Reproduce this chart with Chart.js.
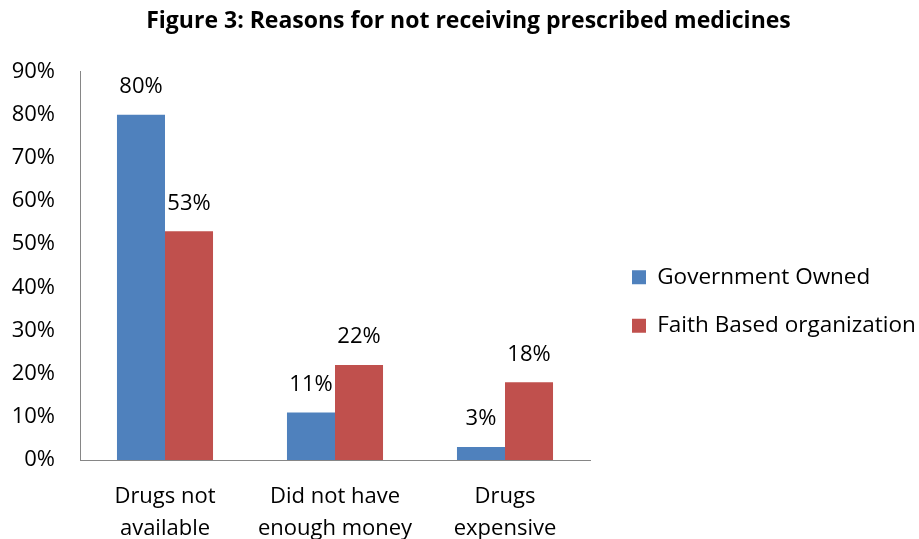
<!DOCTYPE html>
<html>
<head>
<meta charset="utf-8">
<script src="https://cdn.jsdelivr.net/npm/chart.js@4"></script>
<style>
	html, body { margin: 0; padding: 0; background: #fff; }
	#wrap { width: 919px; height: 539px; }
</style>
</head>
<body>
<div id="wrap"><canvas id="chart"></canvas></div>
<script>
const categories = [
	['Drugs not', 'available'],
	['Did not have', 'enough money'],
	['Drugs', 'expensive'],
];
const governmentOwned = [80, 11, 3];
const faithBased = [53, 22, 18];
const seriesNames = ['Government Owned', 'Faith Based organization'];

const FONT = "'Open Sans', sans-serif";

// value labels above each bar
const valueLabels = {
	id: 'valueLabels',
	afterDatasetsDraw(chart) {
		const ctx = chart.ctx;
		ctx.save();
		ctx.font = '22px ' + FONT;
		ctx.fillStyle = '#000';
		ctx.textAlign = 'center';
		ctx.textBaseline = 'middle';
		chart.data.datasets.forEach((ds, i) => {
			chart.getDatasetMeta(i).data.forEach((bar, j) => {
				ctx.fillText(ds.data[j] + '%', bar.x, bar.y - 28);
			});
		});
		ctx.restore();
	}
};

// keep the legend off to the right with a gap like the original,
// and nudge the title a little right
const legendPlace = {
	id: 'legendPlace',
	beforeInit(chart) {
		const fit = chart.legend.fit;
		chart.legend.fit = function () {
			fit.bind(chart.legend)();
			this.width = 329;
		};
	},
	afterLayout(chart) {
		const lg = chart.legend;
		lg.left = 606;
		lg.top += 32;
		lg.bottom += 32;
		chart.titleBlock.left += 18;
	}
};

new Chart(document.getElementById('chart'), {
	type: 'bar',
	data: {
		labels: categories,
		datasets: [
			{ label: seriesNames[0], data: governmentOwned, backgroundColor: '#4F81BD' },
			{ label: seriesNames[1], data: faithBased, backgroundColor: '#C0504D' },
		]
	},
	options: {
		responsive: true,
		maintainAspectRatio: false,
		animation: false,
		categoryPercentage: 0.565,
		barPercentage: 1,
		layout: { padding: 0 },
		plugins: {
			title: {
				display: true,
				text: 'Figure 3: Reasons for not receiving prescribed medicines',
				color: '#000',
				font: { family: FONT, size: 23, weight: 'bold', lineHeight: 1.2 },
				padding: { top: 8, bottom: 36 }
			},
			legend: {
				position: 'right',
				labels: {
					color: '#000',
					font: { family: FONT, size: 22.5 },
					boxWidth: 14,
					boxHeight: 14,
					padding: 26
				}
			},
			tooltip: { enabled: false }
		},
		scales: {
			x: {
				grid: { display: false, drawTicks: false },
				border: { display: true, color: '#868686', width: 1 },
				ticks: {
					color: '#000',
					font: { family: FONT, size: 22, lineHeight: 1.45 },
					padding: 21,
					maxRotation: 0
				},
				afterFit(scale) { scale.height = 79; }
			},
			y: {
				min: 0,
				max: 90,
				grid: { display: false, drawTicks: false },
				border: { display: true, color: '#868686', width: 1 },
				ticks: {
					stepSize: 10,
					color: '#000',
					font: { family: FONT, size: 22 },
					padding: 25,
					callback: v => v + '%'
				},
				afterFit(scale) { scale.width = 80; }
			}
		}
	},
	plugins: [valueLabels, legendPlace]
});
</script>
</body>
</html>
